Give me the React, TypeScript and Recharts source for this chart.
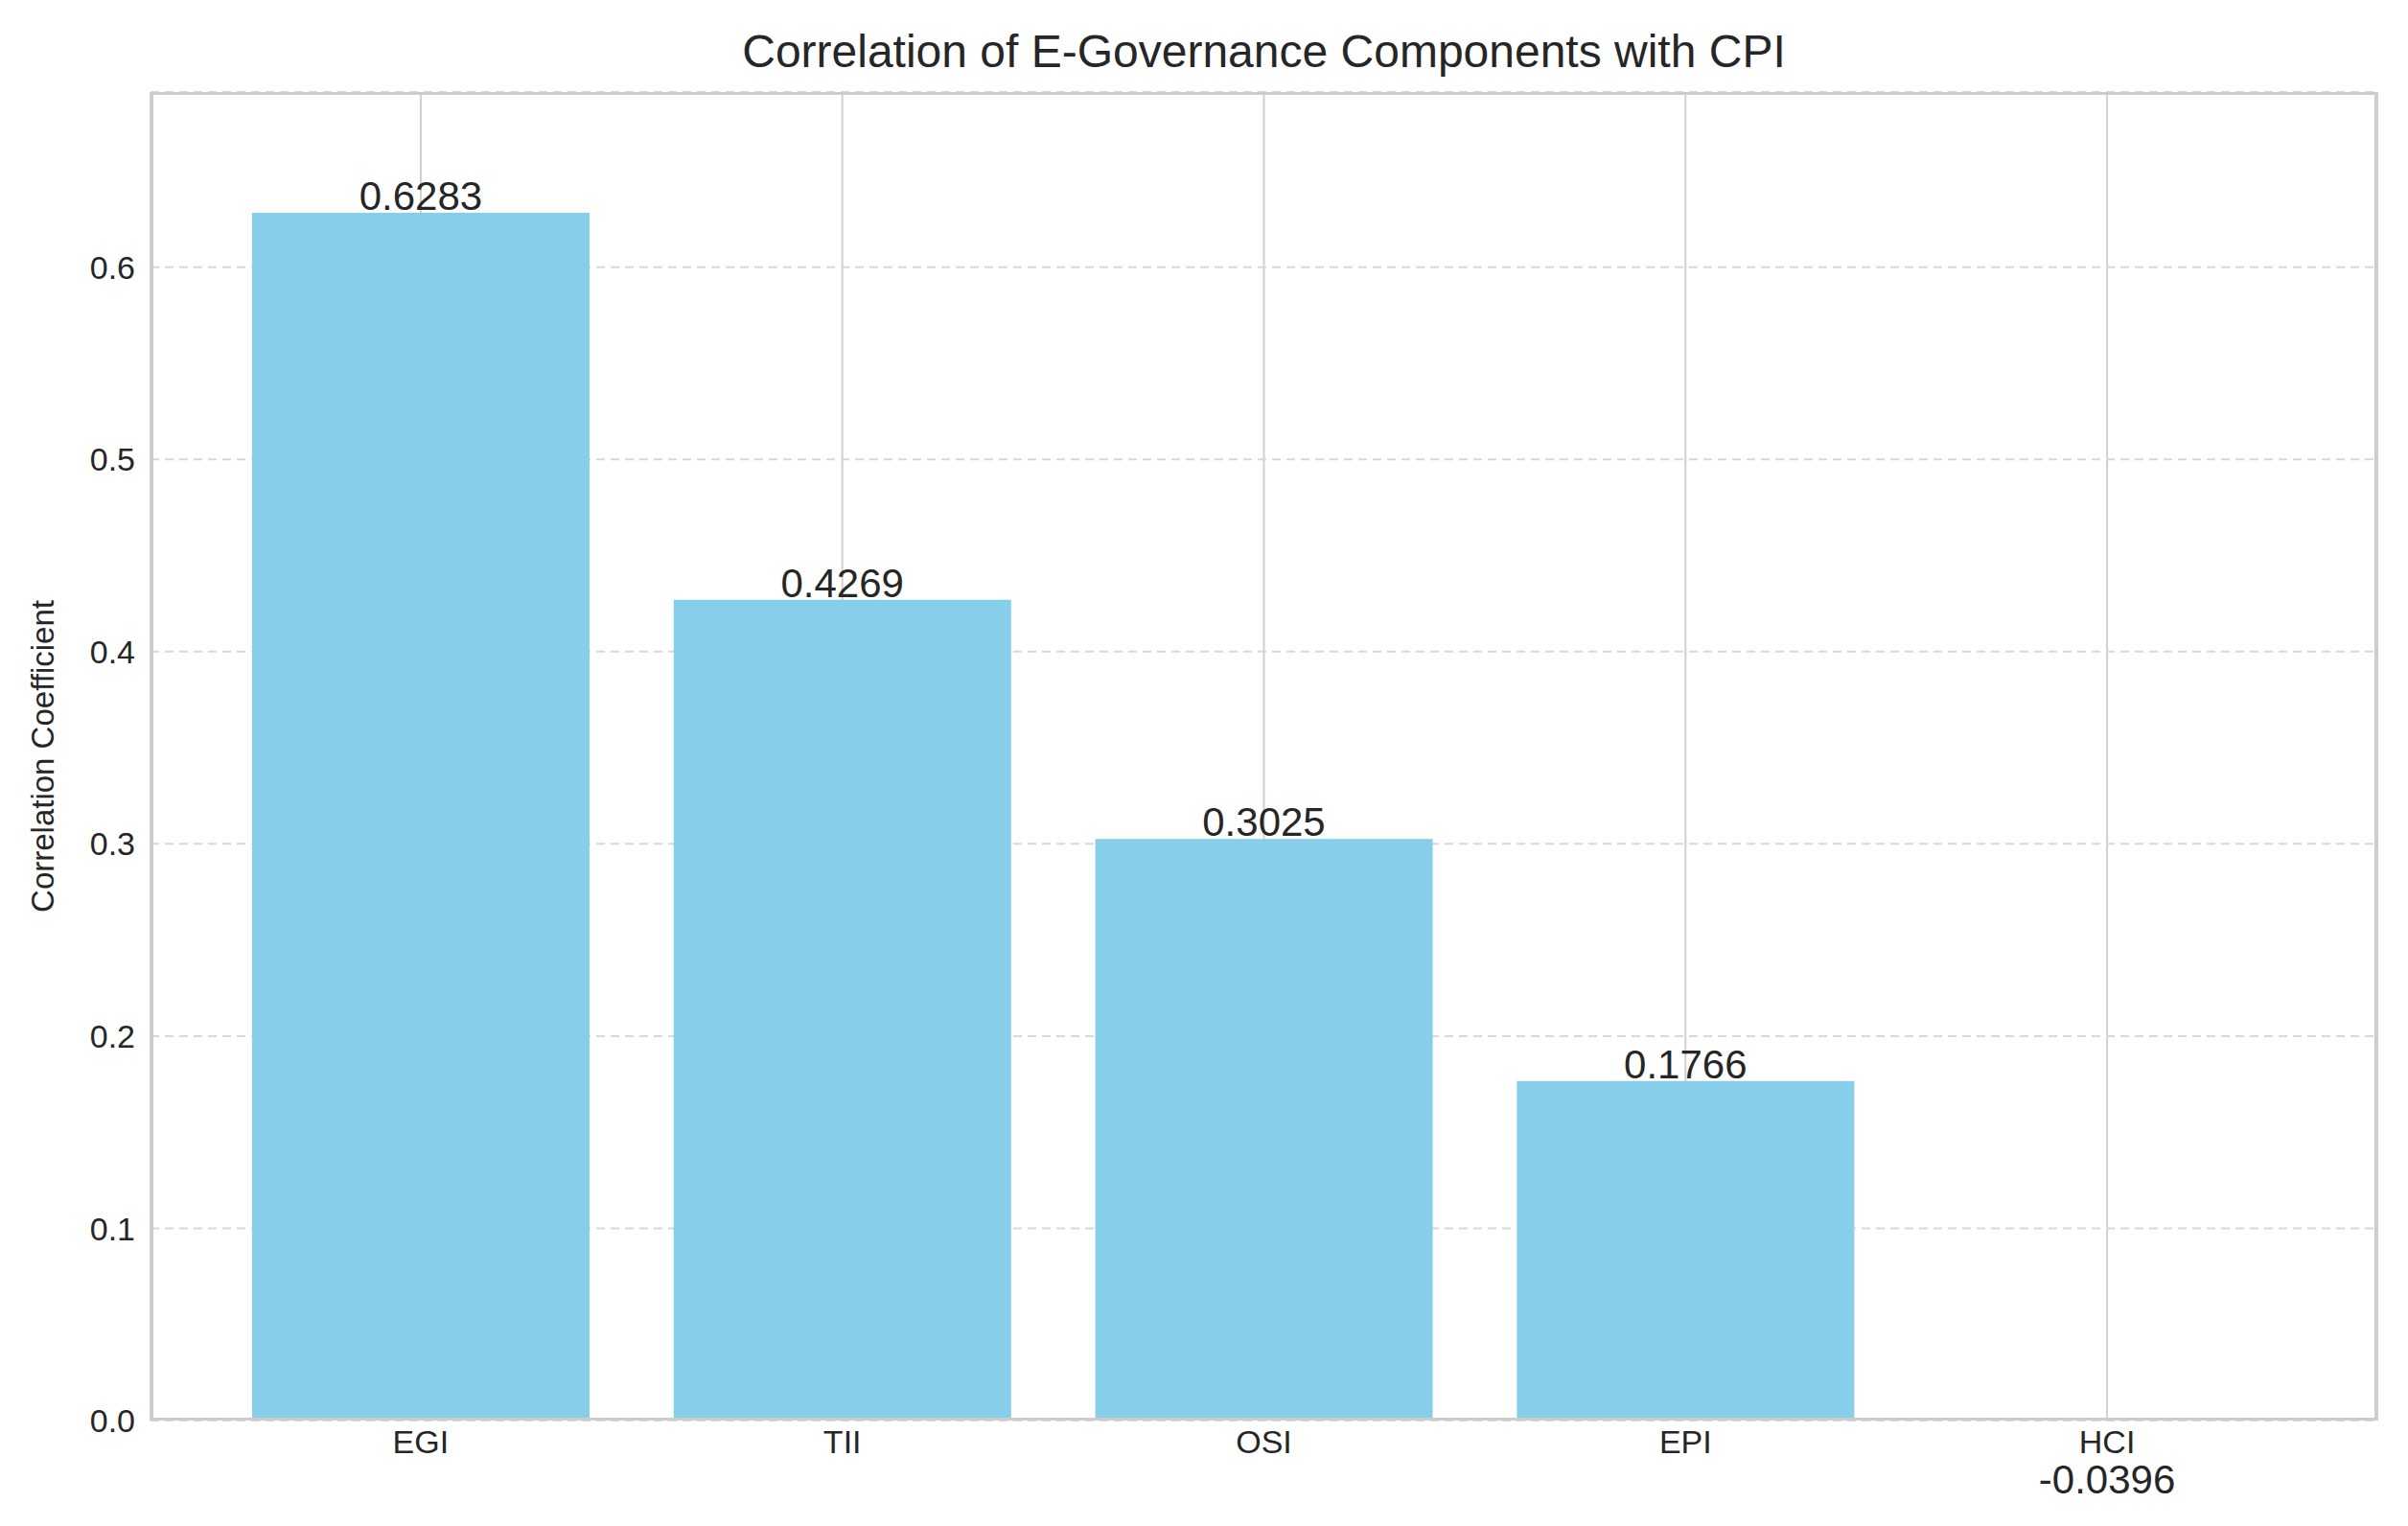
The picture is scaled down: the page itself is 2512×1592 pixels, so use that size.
import React from 'react';
import {
  BarChart,
  Bar,
  XAxis,
  YAxis,
  CartesianGrid,
  ReferenceDot,
} from 'recharts';

const components = ['EGI', 'TII', 'OSI', 'EPI', 'HCI'];
const correlations = [0.6283, 0.4269, 0.3025, 0.1766, -0.0396];
const yTicks = [0, 0.1, 0.2, 0.3, 0.4, 0.5, 0.6];

const data = components.map((name, i) => ({ name, value: correlations[i] }));

const W = 2512;
const H = 1592;
const plot = { left: 157, top: 96, right: 2480, bottom: 1482 };
const font = 'Arial, "Liberation Sans", sans-serif';

const ValueLabel = (props: any) => {
  const { viewBox, value } = props;
  return (
    <text
      x={viewBox.x}
      y={viewBox.y - 3}
      textAnchor="middle"
      fontSize={42}
      fill="#262626"
      fontFamily={font}
    >
      {value}
    </text>
  );
};

export default function App() {
  return (
    <div style={{ position: 'relative', width: W, height: H, margin: -8, background: '#fff', fontFamily: font }}>
      <div
        style={{
          position: 'absolute',
          top: 26,
          left: plot.left,
          width: plot.right - plot.left,
          textAlign: 'center',
          fontSize: 48,
          color: '#262626',
        }}
      >
        Correlation of E-Governance Components with CPI
      </div>
      <div
        style={{
          position: 'absolute',
          left: 45,
          top: 789,
          transform: 'translate(-50%, -50%) rotate(-90deg)',
          fontSize: 33,
          color: '#262626',
          whiteSpace: 'nowrap',
        }}
      >
        Correlation Coefficient
      </div>
      <BarChart
        width={W}
        height={H}
        data={data}
        margin={{ top: plot.top, right: W - plot.right, bottom: 0, left: 0 }}
        barSize={352}
        style={{ position: 'absolute', left: 0, top: 0, overflow: 'visible' }}
      >
        <CartesianGrid horizontal={false} stroke="#d0d0d0" strokeWidth={2} />
        <CartesianGrid vertical={false} stroke="#d8d8d8" strokeWidth={2} strokeDasharray="9 6" />
        <XAxis
          dataKey="name"
          height={H - plot.bottom}
          padding={{ left: 62, right: 62 }}
          axisLine={false}
          tickLine={false}
          tick={{ fontSize: 34, fill: '#262626', fontFamily: font }}
          tickMargin={4}
        />
        <YAxis
          width={plot.left}
          domain={[0, 0.6911]}
          allowDataOverflow
          ticks={yTicks}
          tickFormatter={(v: number) => v.toFixed(1)}
          axisLine={false}
          tickLine={false}
          tick={{ fontSize: 34, fill: '#262626', fontFamily: font }}
          tickMargin={10}
        />
        <Bar dataKey="value" fill="#87ceeb" isAnimationActive={false} />
        {data.map((d) => (
          <ReferenceDot
            key={d.name}
            x={d.name}
            y={d.value}
            r={0}
            stroke="none"
            fill="none"
            ifOverflow="visible"
            label={<ValueLabel value={d.value.toFixed(4)} />}
          />
        ))}
      </BarChart>
      <div
        style={{
          position: 'absolute',
          left: plot.left,
          top: plot.top,
          width: plot.right - plot.left,
          height: plot.bottom - plot.top,
          border: '3px solid #cccccc',
          boxSizing: 'border-box',
          pointerEvents: 'none',
        }}
      />
    </div>
  );
}
